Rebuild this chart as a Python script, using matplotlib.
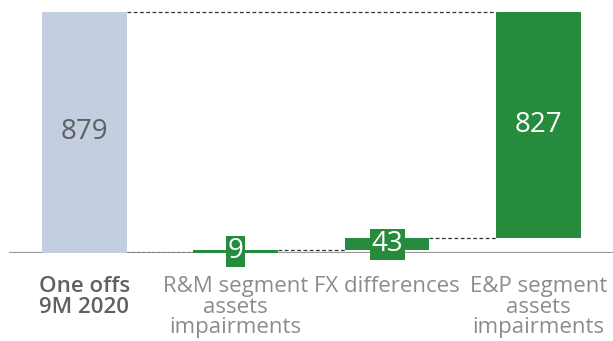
import numpy as np
import matplotlib
matplotlib.use("Agg")
import matplotlib.pyplot as plt

# data
categories = ["One offs\n9M 2020", "R&M segment\nassets\nimpairments",
              "FX differences", "E&P segment\nassets\nimpairments"]
total = 879
steps = [9, 43, 827]

grey_bar = "#c3cfe1"
green = "#268b3d"
txt_grey = "#8c8c8c"

plt.rcParams['font.family'] = ['Open Sans', 'DejaVu Sans']

fig = plt.figure(figsize=(6.13, 3.41), dpi=100)
ax = fig.add_axes([9/613, 88.3/341, 604/613, 247.8/341])

x = np.arange(len(categories))
w = 0.56
bottoms = np.concatenate([[0], np.cumsum(steps)[:-1]])
tops = bottoms + np.array(steps)

ax.bar(x[0], total, width=w, color=grey_bar, zorder=2)
ax.bar(x[1:], steps, bottom=bottoms, width=w, color=green, zorder=2)

# connectors
ax.plot([x[0] + w/2, x[3] - w/2], [total, total], ls=(0, (3, 2)), color="#333333", lw=0.9, zorder=1)
ax.plot([x[0] + w/2, x[1] - w/2], [0, 0], ls=(0, (2, 1)), color="#777777", lw=1.2, zorder=3)
for i in range(1, 3):
    ax.plot([x[i] + w/2, x[i+1] - w/2], [tops[i-1], tops[i-1]], ls=(0, (3, 2)),
            color="#333333", lw=0.9, zorder=1)

# value labels
ax.text(x[0], total/2, str(total), ha="center", va="center", fontsize=20, color="#606060")
ax.text(x[3], (bottoms[2] + tops[2])/2, str(steps[2]), ha="center", va="center",
        fontsize=20, color="white")
for i in range(2):
    ax.text(x[i+1], (bottoms[i] + tops[i])/2, str(steps[i]), ha="center", va="center",
            fontsize=20, color="white", zorder=4,
            bbox=dict(boxstyle="square,pad=0.06", fc=green, ec="none"))

ax.axhline(0, color="#9a9a9a", lw=1.6, zorder=1)

ax.set_xlim(-0.499, 3.493)
ax.set_ylim(0, 905)
ax.set_xticks(x)
ax.set_xticklabels(categories, fontsize=16, color=txt_grey, linespacing=0.95)
ax.get_xticklabels()[0].set_color("#606060")
ax.get_xticklabels()[0].set_fontweight("semibold")
ax.tick_params(axis="x", length=0, pad=17)
ax.set_yticks([])
for s in ax.spines.values():
    s.set_visible(False)

fig.savefig("out.png", dpi=100)
